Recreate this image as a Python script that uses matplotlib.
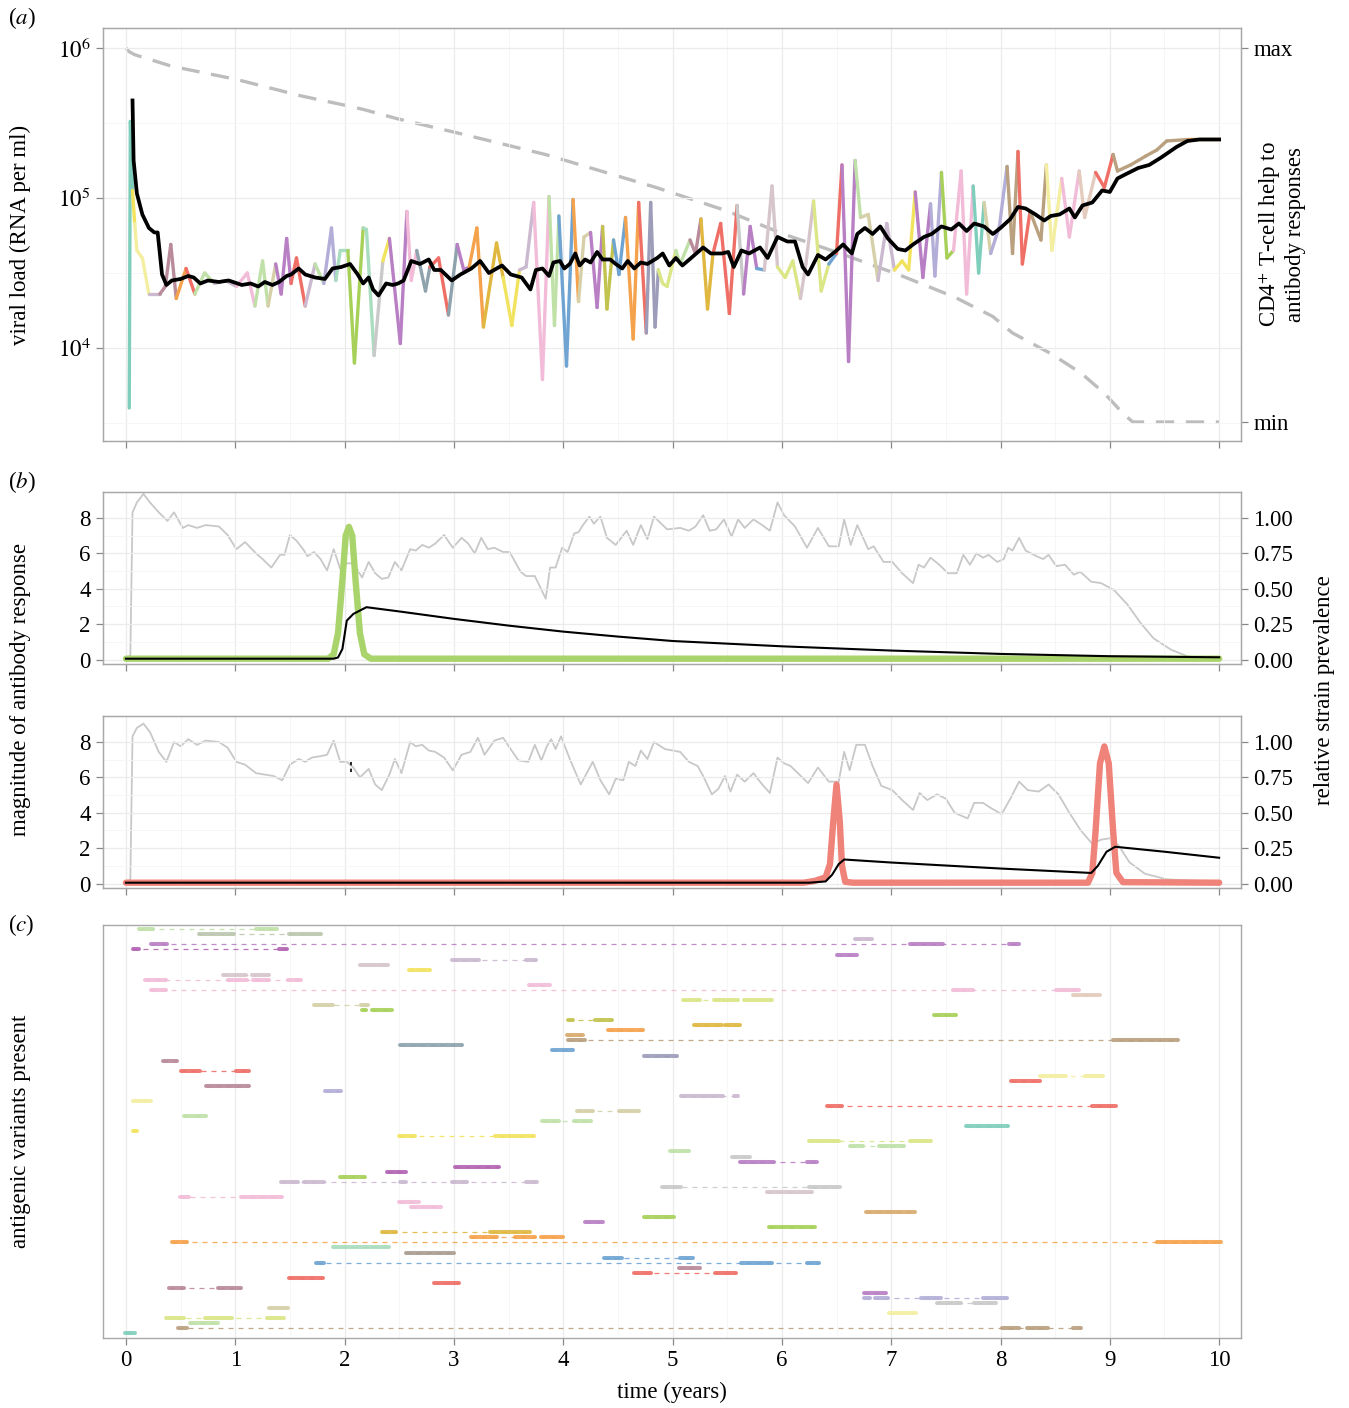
import numpy as np
import matplotlib.pyplot as plt
from matplotlib.collections import LineCollection
from matplotlib.ticker import FixedLocator, NullFormatter

plt.rcParams['font.family'] = ['Liberation Serif', 'DejaVu Serif']
plt.rcParams['mathtext.fontset'] = 'stix'

# ---------------- data ----------------
# strain colours (shared by panels a and c)
strain_colors = ['#7fcdbb', '#f2e35e', '#b87fc4', '#f3eea0', '#b98a99', '#f5a24c',
                 '#ef6f66', '#bfe1a8', '#cbb9d0', '#f2bcd8', '#a7d058', '#8ea3ad',
                 '#6fa4d2', '#e0b840', '#c9c9c9', '#d8aa6e', '#b3aed8', '#dbe687',
                 '#d5d0a8', '#b9a07f', '#bcc6ae', '#b262b2', '#d6c6cc', '#e3cbbd',
                 '#c2c24e', '#9d9dba', '#a9ddbf', '#a89c90']

# (a) viral load of the dominant strain (log10 RNA per ml)
path_t = [0.03, 0.04, 0.06, 0.08, 0.10, 0.15, 0.21, 0.31, 0.36, 0.41, 0.46, 0.55, 0.63,
          0.72, 0.81, 0.91, 1.01, 1.11, 1.18, 1.25, 1.30, 1.37, 1.42, 1.47, 1.51, 1.56,
          1.64, 1.73, 1.81, 1.88, 1.92, 1.96, 2.03, 2.09, 2.17, 2.20, 2.27, 2.35, 2.41,
          2.51, 2.57, 2.61, 2.66, 2.74, 2.78, 2.86, 2.95, 3.03, 3.09, 3.14, 3.21, 3.27,
          3.39, 3.45, 3.53, 3.60, 3.66, 3.73, 3.81, 3.87, 3.92, 3.96, 4.03, 4.09, 4.14,
          4.19, 4.25, 4.31, 4.36, 4.40, 4.46, 4.51, 4.57, 4.64, 4.69, 4.76, 4.80, 4.84,
          4.87, 4.91, 4.95, 5.03, 5.07, 5.16, 5.21, 5.26, 5.32, 5.37, 5.44, 5.52, 5.59,
          5.65, 5.71, 5.77, 5.84, 5.91, 5.96, 6.03, 6.10, 6.17, 6.22, 6.29, 6.36, 6.43,
          6.50, 6.55, 6.61, 6.67, 6.72, 6.79, 6.88, 6.96, 7.03, 7.10, 7.16, 7.22, 7.29,
          7.36, 7.40, 7.46, 7.51, 7.57, 7.64, 7.69, 7.75, 7.80, 7.85, 7.91, 7.99, 8.06,
          8.11, 8.16, 8.20, 8.27, 8.37, 8.42, 8.47, 8.56, 8.63, 8.72, 8.77, 8.87, 8.95,
          9.03, 9.07, 9.19, 9.33, 9.43, 9.52, 9.72, 10.00]
path_log_vl = [3.60, 5.51, 5.05, 4.83, 4.65, 4.60, 4.36, 4.36, 4.41, 4.69, 4.33, 4.53, 4.36,
               4.50, 4.43, 4.45, 4.41, 4.50, 4.28, 4.58, 4.28, 4.56, 4.36, 4.73, 4.43, 4.60,
               4.28, 4.56, 4.43, 4.80, 4.45, 4.65, 4.65, 3.90, 4.80, 4.79, 3.95, 4.58, 4.73,
               4.03, 4.91, 4.45, 4.65, 4.38, 4.54, 4.60, 4.22, 4.69, 4.52, 4.54, 4.80, 4.14,
               4.70, 4.47, 4.15, 4.52, 4.54, 4.97, 3.79, 5.01, 4.15, 4.88, 3.88, 4.99, 4.31,
               4.74, 4.77, 4.27, 4.81, 4.26, 4.72, 4.49, 4.87, 4.06, 4.97, 4.10, 4.97, 4.14,
               4.52, 4.43, 4.41, 4.65, 4.56, 4.72, 4.63, 4.86, 4.26, 4.63, 4.83, 4.23, 4.95,
               4.36, 4.81, 4.53, 4.52, 5.08, 4.54, 4.47, 4.58, 4.33, 4.56, 4.98, 4.38, 4.56,
               4.63, 5.22, 3.91, 5.25, 4.87, 4.89, 4.45, 4.83, 4.52, 4.58, 4.52, 5.04, 4.47,
               4.96, 4.48, 5.17, 4.60, 4.65, 5.18, 4.36, 5.08, 4.50, 4.97, 4.63, 4.81, 5.21,
               4.63, 5.31, 4.56, 4.91, 4.72, 5.22, 4.65, 5.13, 4.74, 5.18, 4.87, 5.17, 5.07,
               5.29, 5.18, 5.22, 5.28, 5.32, 5.38, 5.39, 5.39]
# which strain dominates from each time on (index into strain_colors)
switch_t = [0.00, 0.05, 0.07, 0.20, 0.31, 0.44, 0.50, 0.62, 0.80, 1.00, 1.17, 1.29, 1.36,
            1.50, 1.63, 1.72, 1.80, 1.91, 1.99, 2.16, 2.22, 2.34, 2.40, 2.52, 2.64, 2.77,
            2.94, 3.02, 3.13, 3.26, 3.44, 3.59, 3.70, 3.84, 3.93, 4.05, 4.13, 4.24, 4.33,
            4.44, 4.52, 4.66, 4.73, 4.85, 5.00, 5.10, 5.22, 5.35, 5.55, 5.64, 5.76, 5.80,
            5.95, 6.12, 6.24, 6.40, 6.47, 6.52, 6.64, 6.72, 6.84, 6.98, 7.18, 7.32, 7.42,
            7.55, 7.72, 7.82, 7.88, 8.00, 8.12, 8.24, 8.38, 8.50, 8.68, 8.83, 8.98, 9.55]
switch_id = [0, 1, 3, 8, 4, 5, 6, 7, 8, 9, 7, 18, 2,
             6, 8, 7, 16, 26, 10, 26, 14, 1, 2, 9, 11, 6,
             11, 2, 5, 13, 1, 8, 9, 7, 12, 5, 18, 2, 24,
             12, 5, 6, 25, 17, 7, 4, 13, 6, 14, 2, 12, 22,
             17, 22, 17, 12, 6, 2, 7, 18, 8, 1, 2, 16, 10,
             9, 0, 18, 16, 19, 6, 19, 3, 9, 23, 6, 19, 5]

# (a) total viral load (log10)
total_t = [0.06, 0.07, 0.10, 0.15, 0.21, 0.26, 0.29, 0.31, 0.33, 0.37, 0.42, 0.50, 0.57,
           0.62, 0.68, 0.75, 0.85, 0.94, 1.06, 1.14, 1.21, 1.27, 1.34, 1.40, 1.47, 1.51,
           1.58, 1.64, 1.73, 1.82, 1.89, 1.97, 2.05, 2.12, 2.17, 2.22, 2.26, 2.31, 2.38,
           2.44, 2.49, 2.54, 2.61, 2.69, 2.77, 2.82, 2.88, 2.98, 3.06, 3.16, 3.24, 3.32,
           3.44, 3.52, 3.62, 3.70, 3.75, 3.81, 3.87, 3.91, 3.97, 4.01, 4.06, 4.11, 4.15,
           4.20, 4.25, 4.31, 4.36, 4.43, 4.48, 4.54, 4.59, 4.65, 4.71, 4.77, 4.86, 4.91,
           4.97, 5.03, 5.09, 5.17, 5.28, 5.35, 5.45, 5.51, 5.56, 5.63, 5.70, 5.80, 5.87,
           5.96, 6.05, 6.12, 6.19, 6.24, 6.33, 6.40, 6.50, 6.56, 6.64, 6.69, 6.76, 6.83,
           6.90, 6.97, 7.06, 7.13, 7.20, 7.30, 7.37, 7.46, 7.55, 7.62, 7.69, 7.76, 7.85,
           7.93, 8.00, 8.09, 8.16, 8.23, 8.32, 8.40, 8.46, 8.54, 8.63, 8.68, 8.75, 8.84,
           8.93, 9.00, 9.07, 9.15, 9.26, 9.36, 9.47, 9.61, 9.71, 9.82, 10.00]
total_log_vl = [5.65, 5.25, 5.03, 4.89, 4.80, 4.77, 4.77, 4.63, 4.49, 4.42, 4.45, 4.46, 4.48,
                4.47, 4.43, 4.45, 4.44, 4.45, 4.42, 4.43, 4.41, 4.44, 4.42, 4.44, 4.48, 4.49,
                4.53, 4.49, 4.47, 4.46, 4.53, 4.54, 4.56, 4.49, 4.43, 4.47, 4.39, 4.35, 4.43,
                4.42, 4.43, 4.45, 4.58, 4.56, 4.59, 4.52, 4.52, 4.45, 4.49, 4.53, 4.58, 4.50,
                4.55, 4.49, 4.47, 4.39, 4.52, 4.53, 4.48, 4.57, 4.58, 4.53, 4.56, 4.63, 4.55,
                4.59, 4.57, 4.64, 4.59, 4.59, 4.56, 4.53, 4.58, 4.53, 4.57, 4.56, 4.60, 4.63,
                4.55, 4.60, 4.55, 4.60, 4.67, 4.63, 4.63, 4.64, 4.54, 4.65, 4.63, 4.67, 4.60,
                4.74, 4.71, 4.71, 4.54, 4.49, 4.62, 4.59, 4.65, 4.69, 4.63, 4.76, 4.80, 4.76,
                4.81, 4.73, 4.66, 4.65, 4.69, 4.74, 4.76, 4.81, 4.79, 4.83, 4.78, 4.83, 4.81,
                4.76, 4.80, 4.86, 4.94, 4.93, 4.89, 4.85, 4.88, 4.89, 4.93, 4.87, 4.95, 4.97,
                5.05, 5.04, 5.13, 5.16, 5.20, 5.22, 5.27, 5.34, 5.38, 5.39, 5.39]

# (a) CD4+ T-cell help (0 = min, 1 = max)
help_t = [0.00, 0.03, 0.08, 0.42, 1.01, 1.60, 2.05, 2.18, 2.48, 3.03, 3.84, 4.85, 5.49,
          6.01, 6.54, 7.06, 7.58, 7.93, 8.11, 8.46, 8.74, 8.95, 9.12, 9.21, 10.00]
help_level = [1.00, 0.99, 0.982, 0.951, 0.916, 0.872, 0.844, 0.835, 0.811, 0.773, 0.715,
              0.627, 0.565, 0.503, 0.450, 0.395, 0.334, 0.282, 0.238, 0.183, 0.130, 0.077,
              0.023, 0.00, 0.00]

# (b) upper: relative strain prevalence (grey), strain (green), antibody (black)
prev1_t = [0.00, 0.04, 0.06, 0.10, 0.16, 0.22, 0.30, 0.38, 0.44, 0.52, 0.57, 0.65, 0.73,
           0.85, 0.93, 1.01, 1.09, 1.19, 1.25, 1.33, 1.41, 1.45, 1.50, 1.56, 1.62, 1.66,
           1.72, 1.78, 1.84, 1.90, 1.96, 2.02, 2.08, 2.16, 2.22, 2.28, 2.34, 2.40, 2.46,
           2.52, 2.60, 2.65, 2.71, 2.77, 2.83, 2.91, 2.99, 3.07, 3.13, 3.19, 3.25, 3.31,
           3.37, 3.45, 3.51, 3.61, 3.66, 3.74, 3.84, 3.88, 3.93, 3.99, 4.04, 4.10, 4.14,
           4.18, 4.24, 4.28, 4.34, 4.40, 4.48, 4.58, 4.64, 4.71, 4.77, 4.83, 4.95, 5.07,
           5.15, 5.21, 5.28, 5.34, 5.40, 5.47, 5.54, 5.60, 5.66, 5.74, 5.82, 5.89, 5.96,
           6.02, 6.12, 6.23, 6.33, 6.43, 6.52, 6.57, 6.63, 6.69, 6.79, 6.84, 6.93, 7.01,
           7.10, 7.20, 7.25, 7.30, 7.36, 7.44, 7.52, 7.60, 7.66, 7.72, 7.78, 7.84, 7.89,
           7.97, 8.03, 8.07, 8.11, 8.17, 8.23, 8.33, 8.39, 8.44, 8.51, 8.59, 8.67, 8.73,
           8.83, 8.92, 9.04, 9.16, 9.28, 9.40, 9.56, 9.72, 10.00]
prev1 = [0.00, 0.03, 1.04, 1.11, 1.17, 1.11, 1.04, 0.98, 1.04, 0.93, 0.95, 0.93, 0.95,
         0.94, 0.88, 0.78, 0.83, 0.75, 0.71, 0.65, 0.74, 0.74, 0.88, 0.84, 0.78, 0.73,
         0.76, 0.71, 0.63, 0.78, 0.64, 0.68, 0.68, 0.58, 0.69, 0.61, 0.57, 0.58, 0.69,
         0.63, 0.78, 0.77, 0.81, 0.79, 0.82, 0.88, 0.79, 0.86, 0.82, 0.75, 0.86, 0.78,
         0.79, 0.76, 0.76, 0.62, 0.59, 0.59, 0.43, 0.65, 0.65, 0.79, 0.76, 0.89, 0.90,
         0.95, 1.01, 0.96, 1.01, 0.86, 0.81, 0.91, 0.81, 0.95, 0.85, 1.01, 0.92, 0.93,
         0.91, 0.94, 1.02, 0.91, 0.92, 0.99, 0.87, 0.99, 0.93, 0.99, 0.95, 0.91, 1.11,
         1.02, 0.94, 0.79, 0.93, 0.80, 0.80, 0.99, 0.81, 0.95, 0.78, 0.80, 0.69, 0.69,
         0.61, 0.54, 0.67, 0.65, 0.72, 0.67, 0.61, 0.61, 0.74, 0.67, 0.75, 0.72, 0.74,
         0.69, 0.71, 0.79, 0.77, 0.86, 0.77, 0.73, 0.71, 0.74, 0.66, 0.67, 0.60, 0.62,
         0.55, 0.54, 0.49, 0.39, 0.26, 0.15, 0.07, 0.02, 0.00]
green_t = [0.00, 1.85, 1.90, 1.94, 1.98, 2.01, 2.04, 2.07, 2.10, 2.14, 2.18, 2.24, 10.00]
green_level = [0.05, 0.05, 0.3, 1.5, 4.5, 7.0, 7.5, 7.0, 4.5, 1.5, 0.3, 0.05, 0.05]
ab1_t = [0.00, 1.90, 1.94, 1.98, 2.02, 2.08, 2.14, 2.20, 2.50, 3.00, 3.50, 4.00, 4.50,
         5.00, 6.00, 7.00, 8.00, 9.00, 10.00]
ab1 = [0.05, 0.05, 0.12, 0.6, 2.2, 2.58, 2.77, 2.96, 2.72, 2.30, 1.92, 1.58, 1.30,
       1.05, 0.75, 0.51, 0.32, 0.19, 0.13]

# (b) lower
prev2_t = [0.00, 0.04, 0.06, 0.10, 0.16, 0.22, 0.30, 0.37, 0.44, 0.50, 0.57, 0.65, 0.73,
           0.85, 0.93, 1.01, 1.09, 1.19, 1.27, 1.35, 1.43, 1.50, 1.58, 1.64, 1.70, 1.78,
           1.84, 1.90, 1.96, 2.02, 2.08, 2.14, 2.22, 2.28, 2.34, 2.41, 2.46, 2.52, 2.60,
           2.65, 2.71, 2.77, 2.83, 2.91, 2.99, 3.07, 3.15, 3.22, 3.28, 3.37, 3.45, 3.51,
           3.59, 3.68, 3.74, 3.80, 3.85, 3.89, 3.93, 3.98, 4.06, 4.16, 4.27, 4.34, 4.42,
           4.48, 4.55, 4.60, 4.66, 4.71, 4.77, 4.83, 4.93, 5.07, 5.15, 5.23, 5.28, 5.36,
           5.42, 5.48, 5.53, 5.59, 5.66, 5.74, 5.82, 5.89, 5.96, 6.02, 6.08, 6.16, 6.24,
           6.33, 6.43, 6.52, 6.57, 6.62, 6.68, 6.76, 6.83, 6.91, 7.01, 7.10, 7.20, 7.26,
           7.33, 7.42, 7.50, 7.58, 7.70, 7.76, 7.84, 7.92, 8.01, 8.09, 8.17, 8.25, 8.35,
           8.44, 8.53, 8.63, 8.73, 8.84, 8.92, 9.00, 9.08, 9.18, 9.32, 9.52, 10.00]
prev2 = [0.00, 0.03, 1.04, 1.10, 1.13, 1.07, 0.93, 0.86, 1.00, 0.97, 1.02, 0.98, 1.01,
         1.00, 0.96, 0.86, 0.84, 0.78, 0.77, 0.76, 0.73, 0.84, 0.88, 0.86, 0.89, 0.90,
         0.91, 1.01, 0.86, 0.86, 0.82, 0.75, 0.81, 0.70, 0.66, 0.77, 0.88, 0.78, 1.00,
         0.97, 0.98, 0.94, 0.93, 0.89, 0.80, 0.91, 0.93, 1.03, 0.91, 1.01, 1.03, 0.96,
         0.87, 0.86, 0.98, 0.87, 0.97, 1.02, 0.95, 1.04, 0.88, 0.70, 0.86, 0.73, 0.63,
         0.74, 0.73, 0.86, 0.83, 0.94, 0.88, 1.00, 0.95, 0.93, 0.86, 0.83, 0.76, 0.63,
         0.67, 0.76, 0.65, 0.77, 0.72, 0.78, 0.70, 0.64, 0.89, 0.85, 0.83, 0.77, 0.71,
         0.82, 0.72, 0.72, 0.93, 0.80, 0.98, 0.98, 0.83, 0.69, 0.66, 0.59, 0.52, 0.64,
         0.59, 0.63, 0.60, 0.50, 0.46, 0.57, 0.57, 0.53, 0.49, 0.60, 0.72, 0.66, 0.65,
         0.70, 0.63, 0.50, 0.38, 0.28, 0.31, 0.32, 0.27, 0.15, 0.07, 0.03, 0.01]
red_t = [0.00, 6.20, 6.30, 6.40, 6.44, 6.47, 6.50, 6.53, 6.55, 6.58, 6.65, 8.80, 8.84,
         8.87, 8.91, 8.95, 8.99, 9.03, 9.06, 9.12, 10.00]
red_level = [0.05, 0.05, 0.15, 0.35, 1.1, 3.5, 5.6, 3.5, 1.0, 0.1, 0.05, 0.05, 0.6,
             3.0, 6.8, 7.75, 6.8, 3.0, 0.6, 0.08, 0.05]
ab2_t = [0.00, 6.25, 6.40, 6.46, 6.52, 6.57, 7.00, 7.50, 8.00, 8.50, 8.83, 8.89, 8.97,
         9.05, 9.50, 10.00]
ab2 = [0.05, 0.05, 0.12, 0.5, 1.1, 1.36, 1.19, 1.02, 0.85, 0.70, 0.60, 1.0, 1.8,
       2.08, 1.80, 1.46]
blip_t = [2.06, 2.06]
blip = [6.85, 6.2]

# (c) antigenic variants: row (from top), strain colour, periods present (years)
var_row = [0, 1, 2, 3, 4, 5, 6, 7, 8, 9, 10, 11, 12, 13, 14, 15, 16, 17, 18, 19, 20,
           21, 22, 23, 24, 25, 26, 28, 29, 30, 31, 32, 33, 34, 35, 36, 37, 38, 39, 40,
           41, 42, 43, 44, 45, 46, 47, 48, 49, 50, 51, 52, 53, 54, 55, 56, 57, 58, 59,
           60, 61, 62, 63, 64, 65, 66, 67, 68, 69, 70, 71, 72, 73, 74, 75, 76, 77, 78,
           79, 80]
var_strain = [7, 20, 8, 2, 21, 2, 8, 22, 1, 22, 9, 9, 9, 23, 17, 18, 10, 10, 24, 13, 5,
              15, 19, 11, 12, 25, 4, 6, 3, 6, 4, 16, 8, 3, 6, 18, 7, 7, 0, 1,
              1, 17, 7, 7, 14, 2, 21, 21, 10, 8, 14, 22, 9, 9, 9, 15, 10, 2, 10,
              13, 5, 5, 26, 27, 12, 12, 4, 6, 6, 6, 4, 2, 16, 14, 18, 3, 17, 7,
              19, 0]
var_spans = [
    [(0.12, 0.25), (1.19, 1.38)],
    [(0.67, 0.99), (1.49, 1.78)],
    [(6.67, 6.82)],
    [(0.23, 0.38), (7.17, 7.47), (8.08, 8.17)],
    [(0.06, 0.12), (1.40, 1.47)],
    [(6.50, 6.69)],
    [(2.98, 3.23), (3.66, 3.75)],
    [(2.14, 2.40)],
    [(2.59, 2.78)],
    [(0.89, 1.10), (1.15, 1.31)],
    [(0.17, 0.37), (0.93, 1.11), (1.16, 1.31), (1.48, 1.60)],
    [(3.69, 3.88)],
    [(0.23, 0.37), (7.57, 7.75), (8.51, 8.72)],
    [(8.66, 8.91)],
    [(5.10, 5.25), (5.38, 5.60), (5.65, 5.91)],
    [(1.72, 1.89), (2.15, 2.21)],
    [(2.16, 2.20), (2.25, 2.43)],
    [(7.39, 7.59)],
    [(4.04, 4.09), (4.29, 4.45)],
    [(5.20, 5.45), (5.48, 5.62)],
    [(4.41, 4.73)],
    [(4.03, 4.18)],
    [(4.04, 4.20), (9.03, 9.62)],
    [(2.51, 2.66), (2.68, 2.90), (2.92, 3.07)],
    [(3.90, 4.09)],
    [(4.74, 4.91), (4.93, 5.04)],
    [(0.34, 0.47)],
    [(0.50, 0.68), (1.01, 1.13)],
    [(8.36, 8.60), (8.77, 8.94)],
    [(8.10, 8.36)],
    [(0.73, 1.13)],
    [(1.82, 1.97)],
    [(5.08, 5.46), (5.56, 5.60)],
    [(0.06, 0.23)],
    [(6.41, 6.55), (8.84, 9.06)],
    [(4.13, 4.27), (4.51, 4.69)],
    [(0.53, 0.73)],
    [(3.81, 3.96), (4.10, 4.25)],
    [(7.68, 8.07)],
    [(0.06, 0.10)],
    [(2.50, 2.64), (3.38, 3.73)],
    [(6.25, 6.52), (7.17, 7.36)],
    [(6.62, 6.74), (6.89, 7.12)],
    [(4.98, 5.15)],
    [(5.54, 5.71)],
    [(5.62, 5.93), (6.23, 6.32)],
    [(3.01, 3.41)],
    [(2.39, 2.56)],
    [(1.96, 2.19)],
    [(1.42, 1.57), (1.63, 1.81), (2.51, 2.56), (2.98, 3.12), (3.66, 3.76)],
    [(4.90, 5.08), (6.25, 6.53)],
    [(5.86, 6.28)],
    [(0.49, 0.58), (1.05, 1.28), (1.30, 1.43)],
    [(2.50, 2.68)],
    [(2.61, 2.88)],
    [(6.77, 7.22)],
    [(4.74, 5.01)],
    [(4.20, 4.36)],
    [(5.88, 6.30)],
    [(2.34, 2.47), (3.33, 3.70)],
    [(3.16, 3.39), (3.56, 3.74), (3.80, 3.86), (3.88, 4.00)],
    [(0.42, 0.56), (9.43, 10.02)],
    [(1.89, 2.06), (2.08, 2.24), (2.26, 2.41)],
    [(2.56, 2.78), (2.80, 3.00)],
    [(4.37, 4.54), (5.07, 5.19)],
    [(1.74, 1.81), (5.63, 5.91), (6.23, 6.34)],
    [(5.06, 5.25)],
    [(4.65, 4.80), (5.39, 5.58)],
    [(1.49, 1.80)],
    [(2.82, 3.05)],
    [(0.39, 0.53), (0.84, 1.05)],
    [(6.75, 6.95)],
    [(6.75, 6.81), (6.85, 6.97), (7.27, 7.46), (7.84, 8.06)],
    [(7.42, 7.64), (7.76, 7.96)],
    [(1.31, 1.48)],
    [(6.98, 7.23)],
    [(0.37, 0.53), (0.72, 0.97), (1.29, 1.45)],
    [(0.59, 0.84)],
    [(0.48, 0.56), (8.01, 8.17), (8.24, 8.43), (8.66, 8.74)],
    [(-0.01, 0.08)],
]

years = list(range(11))

# ---------------- figure ----------------
W, H = 1349, 1408
fig = plt.figure(figsize=(W / 100, H / 100), dpi=100)


def box(l, t, r, b):
    return [l / W, 1 - b / H, (r - l) / W, (b - t) / H]


FS = 16.5
GRID = '#ebebeb'
GRID_MINOR = '#f5f5f5'
SPINE = '#a8a8a8'
XLIM = (-0.21, 10.2)


def style(ax, xlabels=False):
    for s in ax.spines.values():
        s.set_color(SPINE)
        s.set_linewidth(1.0)
    ax.set_xlim(*XLIM)
    ax.xaxis.set_major_locator(FixedLocator(years))
    ax.xaxis.set_minor_locator(FixedLocator(np.arange(0.5, 10.5, 1.0)))
    ax.tick_params(which='major', direction='out', length=5, width=0.9,
                   color='#888888', labelsize=FS, pad=4)
    ax.tick_params(which='minor', length=0)
    if not xlabels:
        ax.xaxis.set_major_formatter(NullFormatter())
    ax.grid(which='major', color=GRID, lw=0.9)
    ax.grid(which='minor', color=GRID_MINOR, lw=0.6)
    ax.set_axisbelow(True)


# ---- (a) ----
ax_a = fig.add_axes(box(103, 28, 1241, 441))
style(ax_a)
ax_a.set_yscale('log')
ax_a.set_ylim(10 ** 3.38, 10 ** 6.133)
ax_a.yaxis.set_major_locator(FixedLocator([1e4, 1e5, 1e6]))
ax_a.set_yticklabels([r'$10^{4}$', r'$10^{5}$', r'$10^{6}$'])
ax_a.yaxis.set_minor_locator(FixedLocator([10 ** 3.5, 10 ** 4.5, 10 ** 5.5]))
ax_a.yaxis.set_minor_formatter(NullFormatter())
ax_a.tick_params(axis='y', which='minor', length=0)

ax_ar = ax_a.twinx()
ax_ar.set_ylim(-0.0508, 1.0534)
ax_ar.set_yticks([0, 1])
ax_ar.set_yticklabels(['min', 'max'])
ax_ar.tick_params(axis='y', direction='out', length=5, width=0.9, color='#888888',
                  labelsize=FS, pad=4)
for s in ax_ar.spines.values():
    s.set_color(SPINE)
ax_ar.plot(help_t, help_level, color='#bdbdbd', lw=2.4, dashes=(5.5, 3.5))
ax_a.set_zorder(ax_ar.get_zorder() + 1)
ax_a.patch.set_visible(False)

pts = np.column_stack([path_t, 10 ** np.array(path_log_vl)])
segs = np.stack([pts[:-1], pts[1:]], axis=1)
seg_ids = np.array(switch_id)[np.searchsorted(switch_t, np.array(path_t[:-1]), side='right') - 1]
lc = LineCollection(segs, colors=[strain_colors[i] for i in seg_ids], linewidths=2.4,
                    capstyle='round', joinstyle='round')
ax_a.add_collection(lc)
ax_a.plot(total_t, 10 ** np.array(total_log_vl), color='black', lw=2.7,
          solid_joinstyle='round')

ax_a.set_ylabel('viral load (RNA per ml)', fontsize=FS)
ax_a.yaxis.set_label_coords(-0.063, 0.5)
ax_ar.set_ylabel('CD4$^{+}$ T-cell help to\nantibody responses', fontsize=FS,
                 linespacing=1.1)
ax_ar.yaxis.set_label_coords(1.014, 0.5)


# ---- (b) ----
def antibody_panel(rect, pt, pv, ct, cv, color, at, av):
    ax = fig.add_axes(rect)
    style(ax)
    ax.set_ylim(-0.25, 9.47)
    ax.yaxis.set_major_locator(FixedLocator([0, 2, 4, 6, 8]))
    ax.yaxis.set_minor_locator(FixedLocator([1, 3, 5, 7]))
    axr = ax.twinx()
    axr.set_ylim(-0.25 / 8, 9.47 / 8)
    axr.set_yticks([0, 0.25, 0.5, 0.75, 1.0])
    axr.set_yticklabels(['0.00', '0.25', '0.50', '0.75', '1.00'])
    axr.tick_params(axis='y', direction='out', length=5, width=0.9, color='#888888',
                    labelsize=FS, pad=4)
    for s in axr.spines.values():
        s.set_color(SPINE)
    axr.plot(pt, pv, color='#c8c8c8', lw=1.3)
    ax.set_zorder(axr.get_zorder() + 1)
    ax.patch.set_visible(False)
    ax.plot(ct, cv, color=color, lw=4.6, solid_capstyle='round')
    ax.plot(at, av, color='black', lw=1.5)
    return ax


ax_b1 = antibody_panel(box(103, 492, 1241, 664), prev1_t, prev1, green_t, green_level,
                       '#a9d46b', ab1_t, ab1)
ax_b2 = antibody_panel(box(103, 716, 1241, 888), prev2_t, prev2, red_t, red_level,
                       '#f08379', ab2_t, ab2)
ax_b2.plot(blip_t, blip, color='black', lw=1.2, ls=(0, (2, 2)))

# ---- (c) ----
ax_c = fig.add_axes(box(103, 925, 1241, 1338))
style(ax_c, xlabels=True)
ax_c.grid(False, axis='y', which='both')
ax_c.set_ylim(80.93, -0.85)
ax_c.set_yticks([])
for row, sid, spans in zip(var_row, var_strain, var_spans):
    col = strain_colors[sid]
    ax_c.plot([spans[0][0], spans[-1][1]], [row, row], color=col, lw=0.9,
              dashes=(4, 4), alpha=0.9)
    for s, e in spans:
        ax_c.plot([s, e], [row, row], color=col, lw=2.9, solid_capstyle='round',
                  alpha=0.9)
ax_c.set_ylabel('antigenic variants present', fontsize=FS)
ax_c.yaxis.set_label_coords(-0.063, 0.5)
ax_c.set_xlabel('time (years)', fontsize=FS)
ax_c.xaxis.set_label_coords(0.5, -0.105)

# shared labels and panel letters
fig.text(0.015, 1 - 690 / H, 'magnitude of antibody response', rotation=90,
         fontsize=FS, ha='center', va='center')
fig.text(0.982, 1 - 690 / H, 'relative strain prevalence', rotation=90,
         fontsize=FS, ha='center', va='center')
for lab, ypx in [('a', 18), ('b', 482), ('c', 925)]:
    fig.text(0.006, 1 - ypx / H, '($\\mathit{%s}$)' % lab, fontsize=FS,
             ha='left', va='center')

fig.savefig('out.png', dpi=100)
